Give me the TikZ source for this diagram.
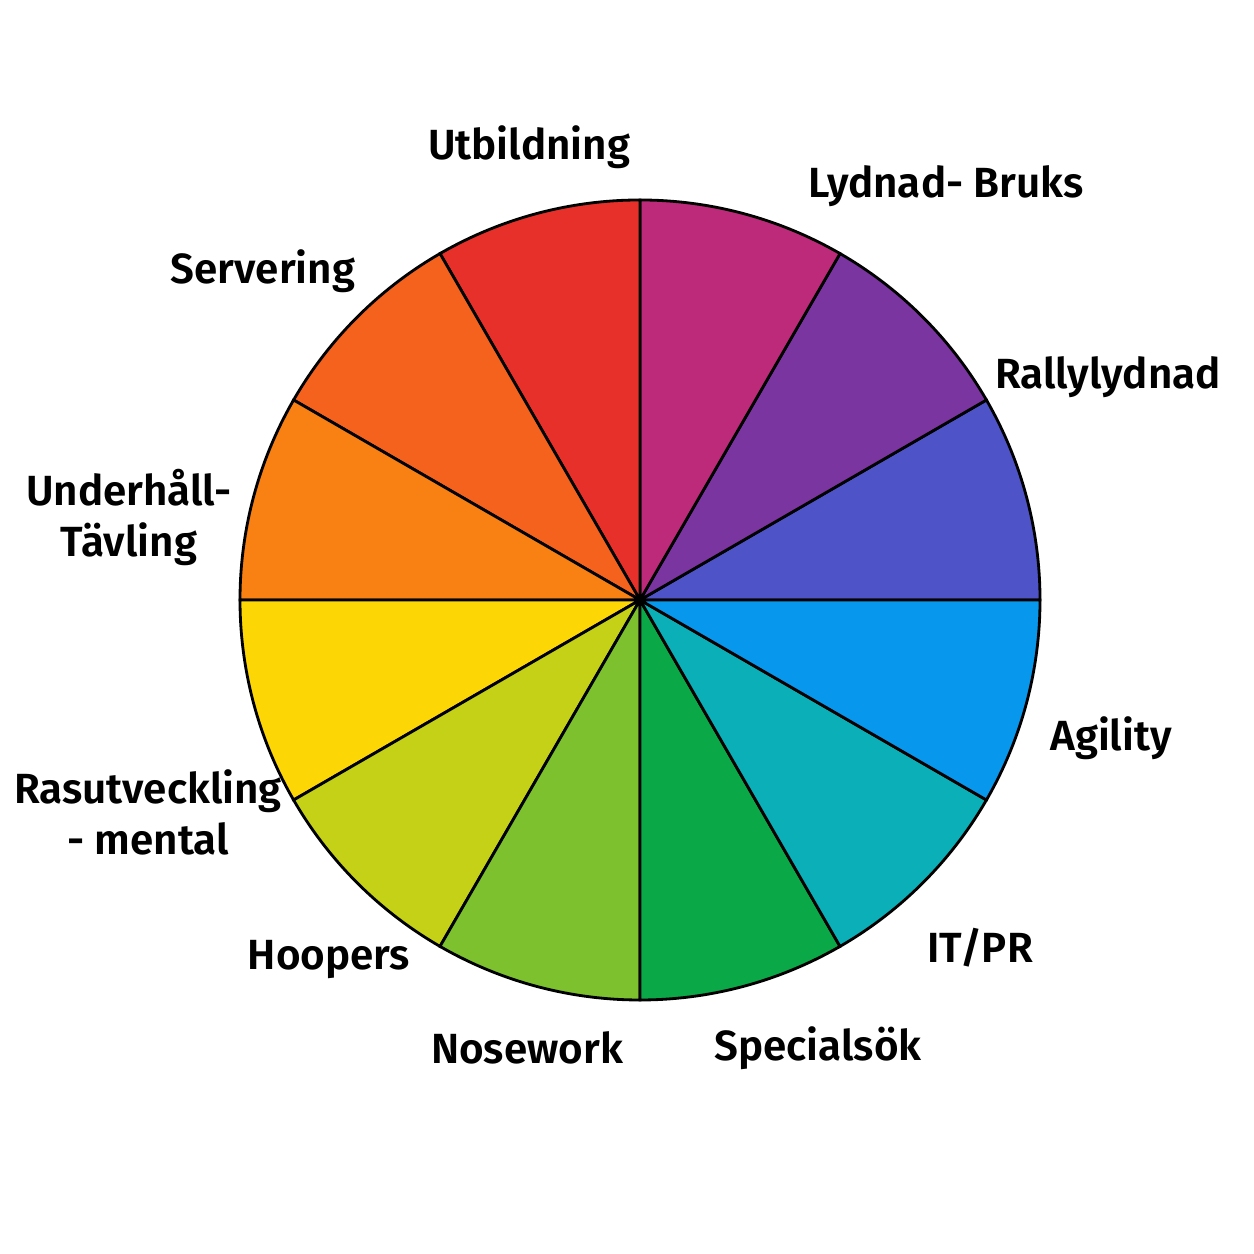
\documentclass[tikz,border=0pt]{standalone}
\usepackage{fontspec}
\setmainfont{Fira Sans}[BoldFont={Fira Sans SemiBold}]
\definecolor{cUtb}{HTML}{E8302A}
\definecolor{cSer}{HTML}{F5621E}
\definecolor{cUnd}{HTML}{F98013}
\definecolor{cRas}{HTML}{FDD605}
\definecolor{cHoo}{HTML}{C4D116}
\definecolor{cNos}{HTML}{7DC22E}
\definecolor{cSpe}{HTML}{0AA847}
\definecolor{cItp}{HTML}{0AAFB8}
\definecolor{cAgi}{HTML}{0798EE}
\definecolor{cRal}{HTML}{4F53C8}
\definecolor{cLyd}{HTML}{7B35A0}
\definecolor{cMag}{HTML}{BE2A7A}
\tikzset{lbl/.style={align=center,font=\fontsize{12}{14.5}\selectfont\bfseries}}
\begin{document}
\begin{tikzpicture}
\useasboundingbox (0,0) rectangle (12.54,12.54);
\coordinate (c) at (6.40,6.54);
% sectors
\foreach \a/\col in {0/cRal,30/cLyd,60/cMag,90/cUtb,120/cSer,150/cUnd,180/cRas,210/cHoo,240/cNos,270/cSpe,300/cItp,330/cAgi}
  \draw[line width=0.8pt,fill=\col] (c) -- ++(\a:4.0) arc[start angle=\a,end angle=\a+30,radius=4.0] -- cycle;
% labels
\node[lbl] (utb) at (5.29,11.07){Utbildning};
\node[lbl] (lyd) at (9.46,10.68){Lydnad- Bruks};
\node[lbl] (ser) at (2.63,9.83){Servering};
\node[lbl] (ral) at (11.08,8.77){Rallylydnad};
\node[lbl] (und) at (1.29,7.36){Underhåll-\\Tävling};
\node[lbl] (agi) at (11.11,5.16){Agility};
\node[lbl] (ras) at (1.48,4.42){Rasutveckling\\- mental};
\node[lbl] (itp) at (9.80,3.06){IT/PR};
\node[lbl] (hoo) at (3.29,2.94){Hoopers};
\node[lbl] (nos) at (5.27,2.06){Nosework};
\node[lbl] (spe) at (8.18,2.06){Specialsök};
\end{tikzpicture}
\end{document}
